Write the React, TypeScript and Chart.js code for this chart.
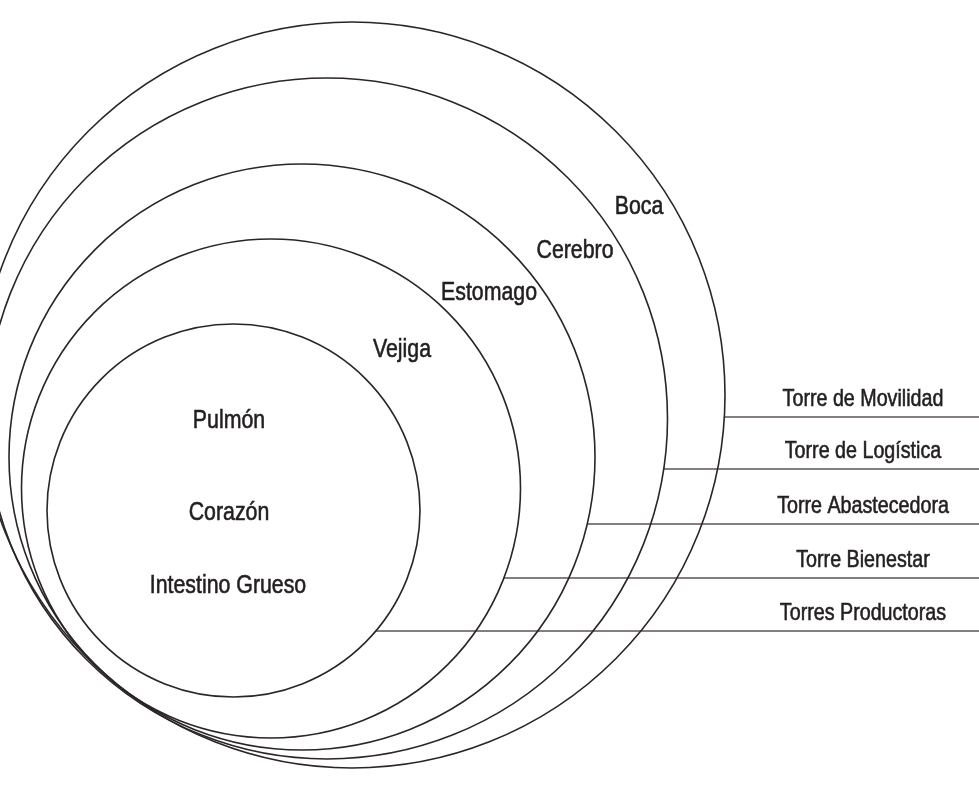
import React, { useEffect, useRef } from "react";
import { Chart, registerables } from "chart.js";

Chart.register(...registerables);

// Nested circles (data units = page pixels)
const circleNames = ["Boca", "Cerebro", "Estomago", "Vejiga", "Pulmón"];
const circleCenterX = [352, 327, 302, 271, 233.5];
const circleCenterY = [395, 418.5, 457, 488.5, 510.5];
const circleRadius = [373, 340.5, 293, 249.5, 186.5];

// Tower labels and their leader lines (one per circle, outermost first)
const towerNames = [
  "Torre de Movilidad",
  "Torre de Logística",
  "Torre Abastecedora",
  "Torre Bienestar",
  "Torres Productoras",
];
const towerLineY = [417, 469, 524, 578, 631];

// Labels inside the innermost circle
const innerNames = ["Pulmón", "Corazón", "Intestino Grueso"];

// Layout of the labels (position only)
const circleLabelPos = [
  { x: 639, y: 214 },
  { x: 575, y: 258 },
  { x: 489, y: 300 },
  { x: 402, y: 357 },
];
const innerLabelPos = [
  { x: 229, y: 428 },
  { x: 229, y: 520 },
  { x: 228, y: 593 },
];
const towerLabelX = 863;
const X_MAX = 979;
const Y_MAX = 793;

const FONT_FAMILY = '"Liberation Sans", Arial, sans-serif';
const NARROW = 0.82;
const TEXT_COLOR = "#231f20";

export default function App() {
  const ref = useRef<HTMLCanvasElement | null>(null);

  useEffect(() => {
    if (!ref.current) return;

    // circle centres as points (invisible), radii drawn by the plugin through the scales
    const centerDataset = {
      type: "scatter" as const,
      label: "centros",
      data: circleNames.map((_, i) => ({ x: circleCenterX[i], y: circleCenterY[i] })),
      pointRadius: 0,
      showLine: false,
    };

    const lineDatasets = towerNames.map((name, i) => {
      const y = towerLineY[i];
      const dy = y - circleCenterY[i];
      const startX = circleCenterX[i] + Math.sqrt(Math.max(0, circleRadius[i] ** 2 - dy * dy));
      return {
        type: "line" as const,
        label: name,
        data: [
          { x: startX, y },
          { x: X_MAX, y },
        ],
        borderColor: "#5b5354",
        borderWidth: 1.5,
        pointRadius: 0,
        fill: false,
      };
    });

    const drawText = (ctx: any, text: string, x: number, y: number, size: number) => {
      ctx.save();
      ctx.translate(x, y);
      ctx.scale(NARROW, 1);
      ctx.font = `${size}px ${FONT_FAMILY}`;
      ctx.lineWidth = 0.6;
      ctx.strokeStyle = TEXT_COLOR;
      ctx.fillText(text, 0, 0);
      ctx.strokeText(text, 0, 0);
      ctx.restore();
    };

    const circlePlugin = {
      id: "circles",
      afterDatasetsDraw(chart: any) {
        const { ctx, scales } = chart;
        const sx = scales.x;
        const sy = scales.y;
        ctx.save();
        ctx.strokeStyle = "#2b2526";
        ctx.lineWidth = 1.6;
        circleNames.forEach((_, i) => {
          const px = sx.getPixelForValue(circleCenterX[i]);
          const py = sy.getPixelForValue(circleCenterY[i]);
          const pr = Math.abs(sx.getPixelForValue(circleCenterX[i] + circleRadius[i]) - px);
          ctx.beginPath();
          ctx.arc(px, py, pr, 0, Math.PI * 2);
          ctx.stroke();
        });

        ctx.fillStyle = TEXT_COLOR;
        ctx.textAlign = "center";
        ctx.textBaseline = "alphabetic";
        circleLabelPos.forEach((p, i) => {
          drawText(ctx, circleNames[i], sx.getPixelForValue(p.x), sy.getPixelForValue(p.y), 26);
        });
        innerNames.forEach((n, i) => {
          const p = innerLabelPos[i];
          drawText(ctx, n, sx.getPixelForValue(p.x), sy.getPixelForValue(p.y), 26);
        });
        towerNames.forEach((n, i) => {
          drawText(ctx, n, sx.getPixelForValue(towerLabelX), sy.getPixelForValue(towerLineY[i] - 11), 24);
        });
        ctx.restore();
      },
    };

    const chart = new Chart(ref.current, {
      type: "scatter",
      data: { datasets: [centerDataset, ...lineDatasets] as any },
      options: {
        animation: false,
        responsive: false,
        events: [],
        layout: { padding: 0 },
        plugins: { legend: { display: false }, tooltip: { enabled: false } },
        scales: {
          x: { type: "linear", min: 0, max: X_MAX, display: false },
          y: { type: "linear", min: 0, max: Y_MAX, reverse: true, display: false },
        },
      },
      plugins: [circlePlugin],
    });

    return () => chart.destroy();
  }, []);

  return (
    <div style={{ position: "fixed", left: 0, top: 0, width: X_MAX, height: Y_MAX, background: "#fff" }}>
      <canvas ref={ref} width={X_MAX} height={Y_MAX} style={{ display: "block" }} />
    </div>
  );
}
